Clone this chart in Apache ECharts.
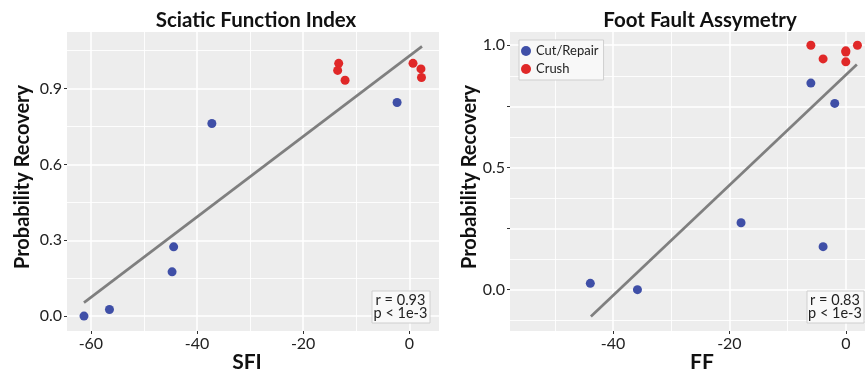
<!DOCTYPE html>
<html>
<head>
<meta charset="utf-8">
<script src="https://cdn.jsdelivr.net/npm/echarts@6/dist/echarts.min.js"></script>
<style>
  html, body { margin: 0; padding: 0; background: #ffffff; }
  #chart { width: 865px; height: 374px; }
</style>
</head>
<body>
<div id="chart"></div>
<script>
// Sciatic Function Index panel
const sfiCutX = [-61.3, -56.5, -44.7, -44.4, -37.2, -2.3];
const sfiCutY = [0.0, 0.026, 0.175, 0.274, 0.762, 0.845];
const sfiCrushX = [-13.3, -13.5, -12.1, 0.7, 2.2, 2.3];
const sfiCrushY = [1.0, 0.972, 0.933, 1.0, 0.978, 0.944];
const sfiFitX = [-61.3, 2.4];
const sfiFitY = [0.053, 1.067];

// Foot Fault Assymetry panel
const ffCutX = [-43.9, -35.8, -18.0, -3.9, -6.0, -1.9];
const ffCutY = [0.026, 0.0, 0.274, 0.176, 0.845, 0.762];
const ffCrushX = [-6.0, -3.9, 0.0, 0.0, 0.0, 2.0];
const ffCrushY = [1.0, 0.944, 0.977, 0.972, 0.932, 1.0];
const ffFitX = [-43.8, 1.9];
const ffFitY = [-0.110, 0.921];

// Tick positions
const sfiXMajor = [-60, -40, -20, 0];
const sfiXMinor = [-50, -30, -10];
const sfiYMajor = [0, 0.3, 0.6, 0.9];
const sfiYMinor = [0.15, 0.45, 0.75, 1.05];
const ffXMajor = [-40, -20, 0];
const ffXMinor = [-50, -30, -10];
const ffYTicks = [0, 0.25, 0.5, 0.75, 1.0];
const ffYLabels = [0, 0.5, 1.0];
const ffYMinor = [-0.125, 0.125, 0.375, 0.625, 0.875];

const seriesNames = ['Cut/Repair', 'Crush'];
const statsSfi = ['r = 0.93', 'p < 1e-3'];
const statsFf = ['r = 0.83', 'p < 1e-3'];

const FONT = 'Lato, "Open Sans", sans-serif';
const BLUE = '#3F4FA7';
const RED = '#E02828';
const FIT = '#7F7F7F';
const PANEL = '#EDEDED';

const zip = (xs, ys) => xs.map((x, i) => [x, ys[i]]);

function majorAxis(kind, grid, min, max, ticks, labels, fmt) {
  return {
    type: 'value', gridIndex: grid, min: min, max: max,
    position: kind === 'x' ? 'bottom' : 'left',
    axisLine: { show: false, onZero: false },
    axisTick: { show: true, length: 3, customValues: ticks, lineStyle: { color: '#333333', width: 1 } },
    axisLabel: { customValues: labels, margin: 5, color: '#222222', fontSize: 16, fontFamily: FONT, formatter: fmt },
    splitLine: { show: true, lineStyle: { color: '#ffffff', width: 1.5 } },
    z: 1
  };
}
function minorAxis(kind, grid, min, max, ticks) {
  return {
    type: 'value', gridIndex: grid, min: min, max: max,
    position: kind === 'x' ? 'bottom' : 'left',
    axisLine: { show: false, onZero: false },
    axisTick: { show: false, customValues: ticks },
    axisLabel: { show: false, customValues: ticks },
    splitLine: { show: true, lineStyle: { color: '#ffffff', width: 0.9 } },
    z: 0
  };
}

const intFmt = v => String(Math.round(v));
const oneDec = v => v.toFixed(1);

const sfiX = [-64.5, 5.6], sfiY = [-0.059, 1.124];
const ffX = [-57.7, 3.3], ffY = [-0.169, 1.054];

function scatter(name, xi, yi, data, color) {
  return {
    name: name, type: 'scatter', xAxisIndex: xi, yAxisIndex: yi,
    data: data, symbolSize: 9, itemStyle: { color: color, opacity: 1 }, z: 4,
    emphasis: { disabled: true }
  };
}
function fitLine(xi, yi, data) {
  return {
    type: 'line', xAxisIndex: xi, yAxisIndex: yi, data: data,
    symbol: 'none', lineStyle: { color: FIT, width: 2.7 }, z: 3,
    emphasis: { disabled: true }, silent: true
  };
}

// Boxed correlation statistics in the lower-right corner of a panel
function statBox(x, y, w, h, lines) {
  return [
    { type: 'rect', left: x, top: y, z: 100,
      shape: { x: 0, y: 0, width: w, height: h },
      style: { fill: '#F9F9F9', stroke: '#CFCFCF', lineWidth: 1 } },
    { type: 'text', x: x + w / 2, y: y + h / 2, z: 101,
      style: { text: lines.join('\n'), fill: '#222222', font: '14.5px ' + FONT,
               align: 'center', verticalAlign: 'middle', lineHeight: 13 } }
  ];
}
function label(text, x, y, size, rot) {
  return {
    type: 'text', x: x, y: y, rotation: rot || 0,
    style: { text: text, fill: '#111111', font: 'bold ' + size + 'px ' + FONT,
             align: 'center', verticalAlign: 'middle' }
  };
}

const chart = echarts.init(document.getElementById('chart'), null, { renderer: 'canvas' });
chart.setOption({
  animation: false,
  backgroundColor: '#ffffff',
  grid: [
    { left: 67, top: 32, width: 372, height: 299, show: true, backgroundColor: PANEL, borderWidth: 0 },
    { left: 510, top: 32, width: 355, height: 299, show: true, backgroundColor: PANEL, borderWidth: 0 }
  ],
  xAxis: [
    majorAxis('x', 0, sfiX[0], sfiX[1], sfiXMajor, sfiXMajor, intFmt),
    minorAxis('x', 0, sfiX[0], sfiX[1], sfiXMinor),
    majorAxis('x', 1, ffX[0], ffX[1], ffXMajor, ffXMajor, intFmt),
    minorAxis('x', 1, ffX[0], ffX[1], ffXMinor)
  ],
  yAxis: [
    majorAxis('y', 0, sfiY[0], sfiY[1], sfiYMajor, sfiYMajor, oneDec),
    minorAxis('y', 0, sfiY[0], sfiY[1], sfiYMinor),
    majorAxis('y', 1, ffY[0], ffY[1], ffYTicks, ffYLabels, oneDec),
    minorAxis('y', 1, ffY[0], ffY[1], ffYMinor)
  ],
  legend: {
    data: seriesNames, orient: 'vertical', left: 519, top: 40,
    padding: [4, 5, 4, 2], itemGap: 4, itemWidth: 10, itemHeight: 10, itemTextGap: 5,
    icon: 'circle', backgroundColor: '#F8F8F8', borderColor: '#CFCFCF', borderWidth: 1,
    borderRadius: 0, selectedMode: false,
    textStyle: { fontSize: 13, fontFamily: FONT, color: '#222222', lineHeight: 14 }
  },
  series: [
    fitLine(0, 0, zip(sfiFitX, sfiFitY)),
    scatter(seriesNames[0], 0, 0, zip(sfiCutX, sfiCutY), BLUE),
    scatter(seriesNames[1], 0, 0, zip(sfiCrushX, sfiCrushY), RED),
    fitLine(2, 2, zip(ffFitX, ffFitY)),
    scatter(seriesNames[0], 2, 2, zip(ffCutX, ffCutY), BLUE),
    scatter(seriesNames[1], 2, 2, zip(ffCrushX, ffCrushY), RED)
  ],
  graphic: [
    label('Sciatic Function Index', 256, 20, 20.5),
    label('Foot Fault Assymetry', 700, 20, 20.5),
    label('SFI', 247, 362, 21),
    label('FF', 702, 362, 21),
    label('Probability Recovery', 23, 177, 20, Math.PI / 2),
    label('Probability Recovery', 470, 177, 20, Math.PI / 2)
  ].concat(statBox(371.5, 290.5, 58, 32, statsSfi), statBox(806.5, 290.5, 57, 32, statsFf))
});
</script>
</body>
</html>
